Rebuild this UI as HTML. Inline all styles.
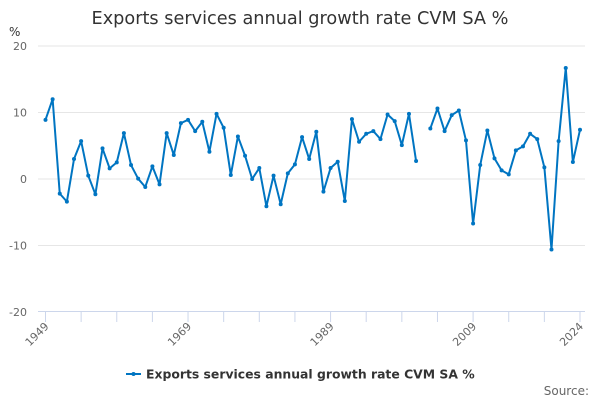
<!DOCTYPE html>
<html><head><meta charset="utf-8"><style>
body{margin:0;background:#fff;}
svg{display:block;font-family:"DejaVu Sans","Liberation Sans",sans-serif;}
</style></head><body>
<svg id="chart" width="600" height="400" viewBox="0 0 600 400" xmlns="http://www.w3.org/2000/svg">
<rect width="600" height="400" fill="#fff"/>
<text x="300" y="24" text-anchor="middle" font-size="17.7" fill="#333">Exports services annual growth rate CVM SA %</text>
<text x="9" y="36" font-size="12" fill="#333">%</text>
<g id="grid"></g>
<g id="xaxis"></g>
<g id="series"></g>
<g>
<line x1="126" y1="374" x2="141" y2="374" stroke="#0075c2" stroke-width="2"/>
<circle cx="133.5" cy="374" r="2" fill="#0075c2"/>
<text x="146" y="378.5" font-size="12.4" font-weight="bold" fill="#333">Exports services annual growth rate CVM SA %</text>
</g>
<text x="589" y="395" text-anchor="end" font-size="12" fill="#666">Source:</text>
</svg>
<script>
const years = [];
for (let y = 1949; y <= 2024; y++) years.push(y);
const values = [8.9,12.0,-2.2,-3.4,3.0,5.7,0.5,-2.3,4.6,1.6,2.5,6.9,2.1,0.05,-1.2,1.9,-0.8,6.9,3.6,8.4,8.9,7.2,8.6,4.1,9.8,7.7,
0.6,6.4,3.5,0,1.65,-4.1,0.5,-3.8,0.85,2.2,6.3,3.0,7.1,-1.9,1.65,2.6,-3.3,9.0,5.6,6.8,7.2,6.0,9.7,8.7,5.1,9.8,2.7,
null,7.6,10.6,7.2,9.6,10.3,5.8,-6.7,2.1,7.3,3.1,1.3,0.7,4.3,4.9,6.8,6.0,1.75,-10.6,5.7,16.7,2.55,7.4];
const yTicks = [20,10,0,-10,-20];
const xLabels = [1949,1969,1989,2009,2024];
const NS="http://www.w3.org/2000/svg";
const X0=45.5,X1=580,Y20=46,Ym20=312;
const xs = yr => X0 + (yr-1949)*(X1-X0)/(2024-1949);
const ys = v => Y20 + (20-v)*(Ym20-Y20)/40;
function mk(tag, attrs, parent){const e=document.createElementNS(NS,tag);for(const k in attrs)e.setAttribute(k,attrs[k]);parent.appendChild(e);return e;}
const grid=document.getElementById('grid');
yTicks.forEach(t=>{
  if(t!==-20){const l=mk('line',{x1:38,x2:585,y1:ys(t),y2:ys(t),stroke:'#e6e6e6','stroke-width':1},grid);
  
  }
  const tx=mk('text',{x:27,y:ys(t)+4,'text-anchor':'end','font-size':11,fill:'#666'},grid);
  
  
  tx.textContent=t;
});
const xa=document.getElementById('xaxis');
const al=mk('line',{x1:38,x2:585,y1:311.5,y2:311.5,stroke:'#ccd6eb','stroke-width':1},xa);


for(let yr=1949;yr<=2024;yr+=5){
  const xx = xs(yr);
  const tk=mk('line',{x1:xx,x2:xx,y1:311.5,y2:322,stroke:'#ccd6eb','stroke-width':1},xa);
  
  
}
const t24=mk('line',{x1:xs(2024),x2:xs(2024),y1:311.5,y2:322,stroke:'#ccd6eb','stroke-width':1},xa);


xLabels.forEach(yr=>{
  const x=xs(yr)+4,y=327;
  const tx=mk('text',{x:x,y:y,'text-anchor':'end','font-size':11,fill:'#666',transform:`rotate(-45 ${x} ${y})`},xa);
  
  
  tx.textContent=yr;
});
const sg=document.getElementById('series');
let d='',pen=false;
values.forEach((v,i)=>{
  if(v===null){pen=false;return;}
  d+=(pen?'L':'M')+xs(years[i]).toFixed(2)+' '+ys(v).toFixed(2)+' ';pen=true;
});
const p=mk('path',{d:d,fill:'none',stroke:'#0075c2','stroke-width':2,'stroke-linejoin':'round'},sg);


values.forEach((v,i)=>{
  if(v===null)return;
  const c=mk('circle',{cx:xs(years[i]),cy:ys(v),r:2,fill:'#0075c2'},sg);
  
  
});
</script>
</body></html>
